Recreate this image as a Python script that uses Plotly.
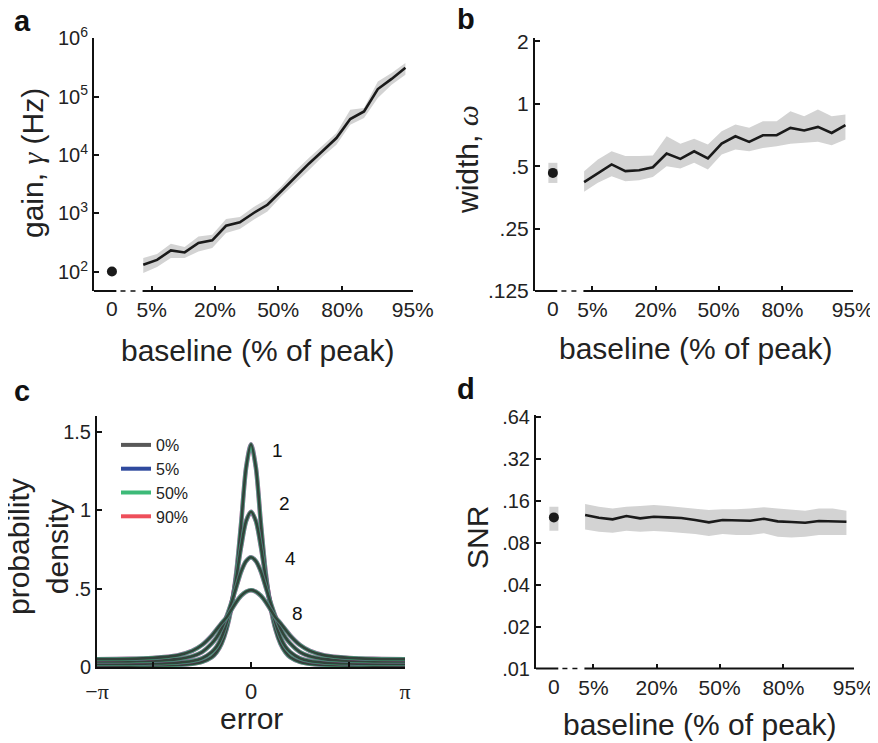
import math
import plotly.graph_objects as go

# ---------------- data ----------------
level = list(range(1, 21))            # 20 baseline levels (5% ... 95%)
zero_level = [-1.27]                  # the 0% baseline model
xtick_pos = [1.61, 6.2, 10.78, 15.42, 20.53]
xtick_text = ["5%", "20%", "50%", "80%", "95%"]

gain = [133, 161, 234, 216, 313, 347, 617, 705, 1020, 1410, 2400, 4170, 7100,
        11700, 19500, 41200, 55600, 134000, 200000, 310000]
gain_hi = [173, 203, 305, 267, 406, 434, 805, 871, 1291, 1770, 2904, 5250, 8890,
           14430, 23770, 59400, 63500, 181000, 252000, 374000]
gain_lo = [96, 122, 173, 173, 225, 257, 464, 543, 783, 1086, 1960, 3320, 5460,
           9460, 15000, 33000, 42800, 94200, 159000, 236000]
gain0, gain0_hi, gain0_lo = [102], [114], [91]

width = [0.419, 0.464, 0.51, 0.473, 0.478, 0.494, 0.575, 0.542, 0.59, 0.545,
         0.643, 0.697, 0.655, 0.705, 0.705, 0.765, 0.743, 0.773, 0.723, 0.788]
width_hi = [0.473, 0.538, 0.59, 0.559, 0.559, 0.563, 0.697, 0.641, 0.677, 0.636,
            0.737, 0.794, 0.765, 0.824, 0.824, 0.92, 0.871, 0.937, 0.871, 0.887]
width_lo = [0.376, 0.416, 0.447, 0.423, 0.427, 0.443, 0.5, 0.487, 0.519, 0.482,
            0.569, 0.602, 0.59, 0.612, 0.624, 0.641, 0.648, 0.655, 0.631, 0.672]
width0, width0_hi, width0_lo = [0.464], [0.519], [0.415]

snr = [0.1261, 0.1206, 0.1174, 0.124, 0.1194, 0.1226, 0.1213, 0.12, 0.1161, 0.1117,
       0.1161, 0.1148, 0.1148, 0.1187, 0.1136, 0.1123, 0.111, 0.1142, 0.1142, 0.1129]
snr_hi = [0.1512, 0.1446, 0.1408, 0.1446, 0.1463, 0.1488, 0.1463, 0.1432, 0.1408, 0.1369,
          0.1385, 0.1385, 0.1408, 0.1432, 0.1408, 0.1385, 0.1354, 0.1408, 0.1408, 0.1354]
snr_lo = [0.0995, 0.0957, 0.0941, 0.0973, 0.0957, 0.0967, 0.0957, 0.0941, 0.0921, 0.0891,
          0.0921, 0.0906, 0.0906, 0.0932, 0.0881, 0.0872, 0.0881, 0.0906, 0.0906, 0.0906]
snr0, snr0_hi, snr0_lo = [0.1213], [0.1446], [0.0973]

error_x = [-math.pi, -2.5, -2.0, -1.5, -1.2, -1.0, -0.8, -0.7, -0.6, -0.5, -0.4, -0.3,
           -0.2, -0.1, 0.0, 0.1, 0.2, 0.3, 0.4, 0.5, 0.6, 0.7, 0.8, 1.0, 1.2, 1.5,
           2.0, 2.5, math.pi]
density_n1 = [0.008, 0.009, 0.010, 0.013, 0.020, 0.032, 0.062, 0.095, 0.150, 0.240,
              0.380, 0.600, 0.920, 1.270, 1.420, 1.270, 0.920, 0.600, 0.380, 0.240,
              0.150, 0.095, 0.062, 0.032, 0.020, 0.013, 0.010, 0.009, 0.008]
density_n2 = [0.019, 0.020, 0.022, 0.028, 0.038, 0.055, 0.095, 0.130, 0.190, 0.280,
              0.400, 0.570, 0.770, 0.930, 0.990, 0.930, 0.770, 0.570, 0.400, 0.280,
              0.190, 0.130, 0.095, 0.055, 0.038, 0.028, 0.022, 0.020, 0.019]
density_n4 = [0.035, 0.036, 0.040, 0.050, 0.068, 0.095, 0.150, 0.190, 0.245, 0.320,
              0.410, 0.510, 0.610, 0.675, 0.700, 0.675, 0.610, 0.510, 0.410, 0.320,
              0.245, 0.190, 0.150, 0.095, 0.068, 0.050, 0.040, 0.036, 0.035]
density_n8 = [0.050, 0.052, 0.058, 0.074, 0.103, 0.140, 0.200, 0.240, 0.280, 0.315,
              0.365, 0.415, 0.455, 0.480, 0.490, 0.480, 0.455, 0.415, 0.365, 0.315,
              0.280, 0.240, 0.200, 0.140, 0.103, 0.074, 0.058, 0.052, 0.050]
set_sizes = ["1", "2", "4", "8"]
baseline_names = ["0%", "5%", "50%", "90%"]

# ---------------- styles ----------------
BAND = "#d3d3d3"
LINE = "#1a1a1a"
FONT = "Liberation Sans, Arial, Helvetica, sans-serif"
SERIF = "Liberation Serif, Times New Roman, serif"
cond_colors = {"0%": "#585858", "5%": "#2f4a9e", "50%": "#3dba78", "90%": "#ee4f5b"}

# the page body adds an 8px margin, so the figure is 8px smaller and offset
OFF = 8
W, H = 878 - OFF, 743 - OFF
def px_x(p): return (p - OFF) / W
def px_y(p): return 1 - (p - OFF) / H

fig = go.Figure()

def add_panel(xa, ya, vals, hi, lo, v0, v0hi, v0lo):
    fig.add_trace(go.Scatter(x=level + level[::-1], y=hi + lo[::-1], fill="toself",
                             fillcolor=BAND, line=dict(width=0), mode="lines",
                             hoverinfo="skip", showlegend=False, xaxis=xa, yaxis=ya))
    fig.add_trace(go.Scatter(x=level, y=vals, mode="lines", line=dict(color=LINE, width=2.6),
                             showlegend=False, xaxis=xa, yaxis=ya))
    fig.add_trace(go.Scatter(x=zero_level, y=v0, mode="markers",
                             marker=dict(color=LINE, size=10),
                             error_y=dict(type="data", symmetric=False,
                                          array=[v0hi[0] - v0[0]], arrayminus=[v0[0] - v0lo[0]],
                                          color=BAND, thickness=9, width=0),
                             showlegend=False, xaxis=xa, yaxis=ya))

add_panel("x", "y", gain, gain_hi, gain_lo, gain0, gain0_hi, gain0_lo)
add_panel("x2", "y2", width, width_hi, width_lo, width0, width0_hi, width0_lo)
add_panel("x4", "y4", snr, snr_hi, snr_lo, snr0, snr0_hi, snr0_lo)

# panel c: error distributions
curves = [density_n1, density_n2, density_n4, density_n8]
draw_spec = [("90%", 4.5, 0.55, "#ee4f5b"), ("5%", 4.5, 0.55, "#2f4a9e"),
             ("50%", 3.6, 0.85, "#3dba78"), ("0%", 2.6, 0.85, "#303030")]
for dens in curves:
    for name, lw, op, col in draw_spec:
        fig.add_trace(go.Scatter(x=error_x, y=dens, mode="lines",
                                 line=dict(color=col, width=lw, shape="spline", smoothing=0.8),
                                 opacity=op, showlegend=False, hoverinfo="skip",
                                 xaxis="x3", yaxis="y3"))
for rank, name in enumerate(baseline_names):
    fig.add_trace(go.Scatter(x=[None], y=[None], mode="lines", name=name,
                             line=dict(color=cond_colors[name], width=4),
                             legendgroup=name, legendrank=rank + 1,
                             xaxis="x3", yaxis="y3"))

label_pos = [(0.54, 1.38), (0.68, 1.04), (0.80, 0.69), (0.94, 0.34)]
annotations = []
for s, (ex, ey) in zip(set_sizes, label_pos):
    annotations.append(dict(x=ex, y=ey, xref="x3", yref="y3", text=s, showarrow=False,
                            font=dict(size=19, color="#111"), xanchor="center", yanchor="middle"))

# ---------------- axes ----------------
xr = [-2.57, 20.55]
tickcommon = dict(ticks="inside", ticklen=5, tickwidth=1.5, tickcolor="#111",
                  showgrid=False, zeroline=False)
def xbase(dom, anchor):
    return dict(domain=dom, anchor=anchor, range=xr, tickvals=xtick_pos, ticktext=xtick_text,
                showline=False, tickfont=dict(size=21, color="#222"), ticklabelstandoff=4,
                automargin=False, **tickcommon)
def ybase(dom, anchor, **kw):
    d = dict(domain=dom, anchor=anchor, showline=True, linewidth=2, linecolor="#111",
             tickfont=dict(size=20, color="#222"), automargin=False, **tickcommon)
    d.update(kw)
    return d

layout = dict(
    width=W, height=H, margin=dict(l=0, r=0, t=0, b=0, pad=0, autoexpand=False),
    plot_bgcolor="white", paper_bgcolor="white",
    font=dict(family=FONT, color="#222"),
    xaxis=xbase([px_x(94), px_x(413)], "y"),
    yaxis=ybase([px_y(291), px_y(38)], "x", type="log", range=[1.675, 6.0],
                tickvals=[1e2, 1e3, 1e4, 1e5, 1e6],
                ticktext=["10<sup>2</sup>", "10<sup>3</sup>", "10<sup>4</sup>", "10<sup>5</sup>", "10<sup>6</sup>"]),
    xaxis2=xbase([px_x(535), px_x(853)], "y2"),
    yaxis2=ybase([px_y(291), px_y(38)], "x2", type="log", range=[math.log10(0.125), 0.317],
                 tickvals=[0.125, 0.25, 0.5, 1, 2], ticktext=[".125", ".25", ".5", "1", "2"],
                 tickfont=dict(size=21, color="#222")),
    xaxis3=dict(domain=[px_x(97), px_x(405)], anchor="y3", range=[-math.pi, math.pi],
                tickvals=[-math.pi, 0, math.pi],
                ticktext=[f"<span style='font-family:{SERIF}'>\u2212\u03c0</span>", "0",
                          f"<span style='font-family:{SERIF}'>\u03c0</span>"],
                minor=dict(tickvals=[-2, 2], ticks="inside", ticklen=5, tickwidth=1.5, tickcolor="#111"),
                showline=True, linewidth=2, linecolor="#111", automargin=False,
                tickfont=dict(size=22, color="#222"), ticklabelstandoff=4, **tickcommon),
    yaxis3=ybase([px_y(667), px_y(416)], "x3", range=[0, 1.6],
                 tickvals=[0, 0.5, 1, 1.5], ticktext=["0", ".5", "1", "1.5"]),
    xaxis4=xbase([px_x(536), px_x(854)], "y4"),
    yaxis4=ybase([px_y(668.5), px_y(415)], "x4", type="log", range=[-2, -0.1816],
                 tickvals=[0.01, 0.02, 0.04, 0.08, 0.16, 0.32, 0.64],
                 ticktext=[".01", ".02", ".04", ".08", ".16", ".32", ".64"]),
    legend=dict(x=px_x(116), y=px_y(428), xanchor="left", yanchor="top",
                bgcolor="rgba(0,0,0,0)", font=dict(size=16, color="#222"),
                traceorder="grouped", tracegroupgap=0, itemwidth=30),
)

# broken x axes (solid - dashed - solid)
shapes = []
for xa, ya in [("x", "y"), ("x2", "y2"), ("x4", "y4")]:
    yd = ya + " domain"
    shapes.append(dict(type="line", xref=xa, yref=yd, x0=xr[0], x1=-0.95, y0=0, y1=0,
                       line=dict(color="#111", width=2)))
    shapes.append(dict(type="line", xref=xa, yref=yd, x0=-0.65, x1=0.75, y0=0, y1=0,
                       line=dict(color="#111", width=1.6, dash="5px,5px")))
    shapes.append(dict(type="line", xref=xa, yref=yd, x0=0.95, x1=xr[1], y0=0, y1=0,
                       line=dict(color="#111", width=2)))
    annotations.append(dict(x=zero_level[0], y=0, xref=xa, yref=yd, text="0", showarrow=False,
                            xanchor="center", yanchor="top", yshift=-4,
                            font=dict(size=21, color="#222")))

TITLE = 30
def title_ann(x, y, text, angle=0):
    return dict(x=px_x(x), y=px_y(y), xref="paper", yref="paper", text=text,
                textangle=angle, showarrow=False, xanchor="center", yanchor="middle",
                font=dict(size=TITLE, color="#222"))

annotations += [
    title_ann(258, 350, "baseline (% of peak)"),
    title_ann(696, 348, "baseline (% of peak)"),
    title_ann(251, 718, "error"),
    title_ann(700, 724, "baseline (% of peak)"),
    title_ann(32, 163, f"gain, <span style='font-family:{SERIF}'><i>\u03b3</i></span> (Hz)", -90),
    title_ann(468, 160, f"width, <span style='font-family:{SERIF}'><i>\u03c9</i></span>", -90),
    title_ann(38, 547, "probability<br>density", -90),
    title_ann(477, 538, "SNR", -90),
]
# panel letters
for letter, lx, ly in [("a", 22, 21), ("b", 466, 19), ("c", 22, 391), ("d", 466, 389)]:
    annotations.append(dict(x=px_x(lx), y=px_y(ly), xref="paper", yref="paper",
                            text=f"<b>{letter}</b>", showarrow=False,
                            xanchor="center", yanchor="middle",
                            font=dict(size=29, color="#111")))

layout["shapes"] = shapes
layout["annotations"] = annotations
fig.update_layout(**layout)
fig.write_html("out.html")
